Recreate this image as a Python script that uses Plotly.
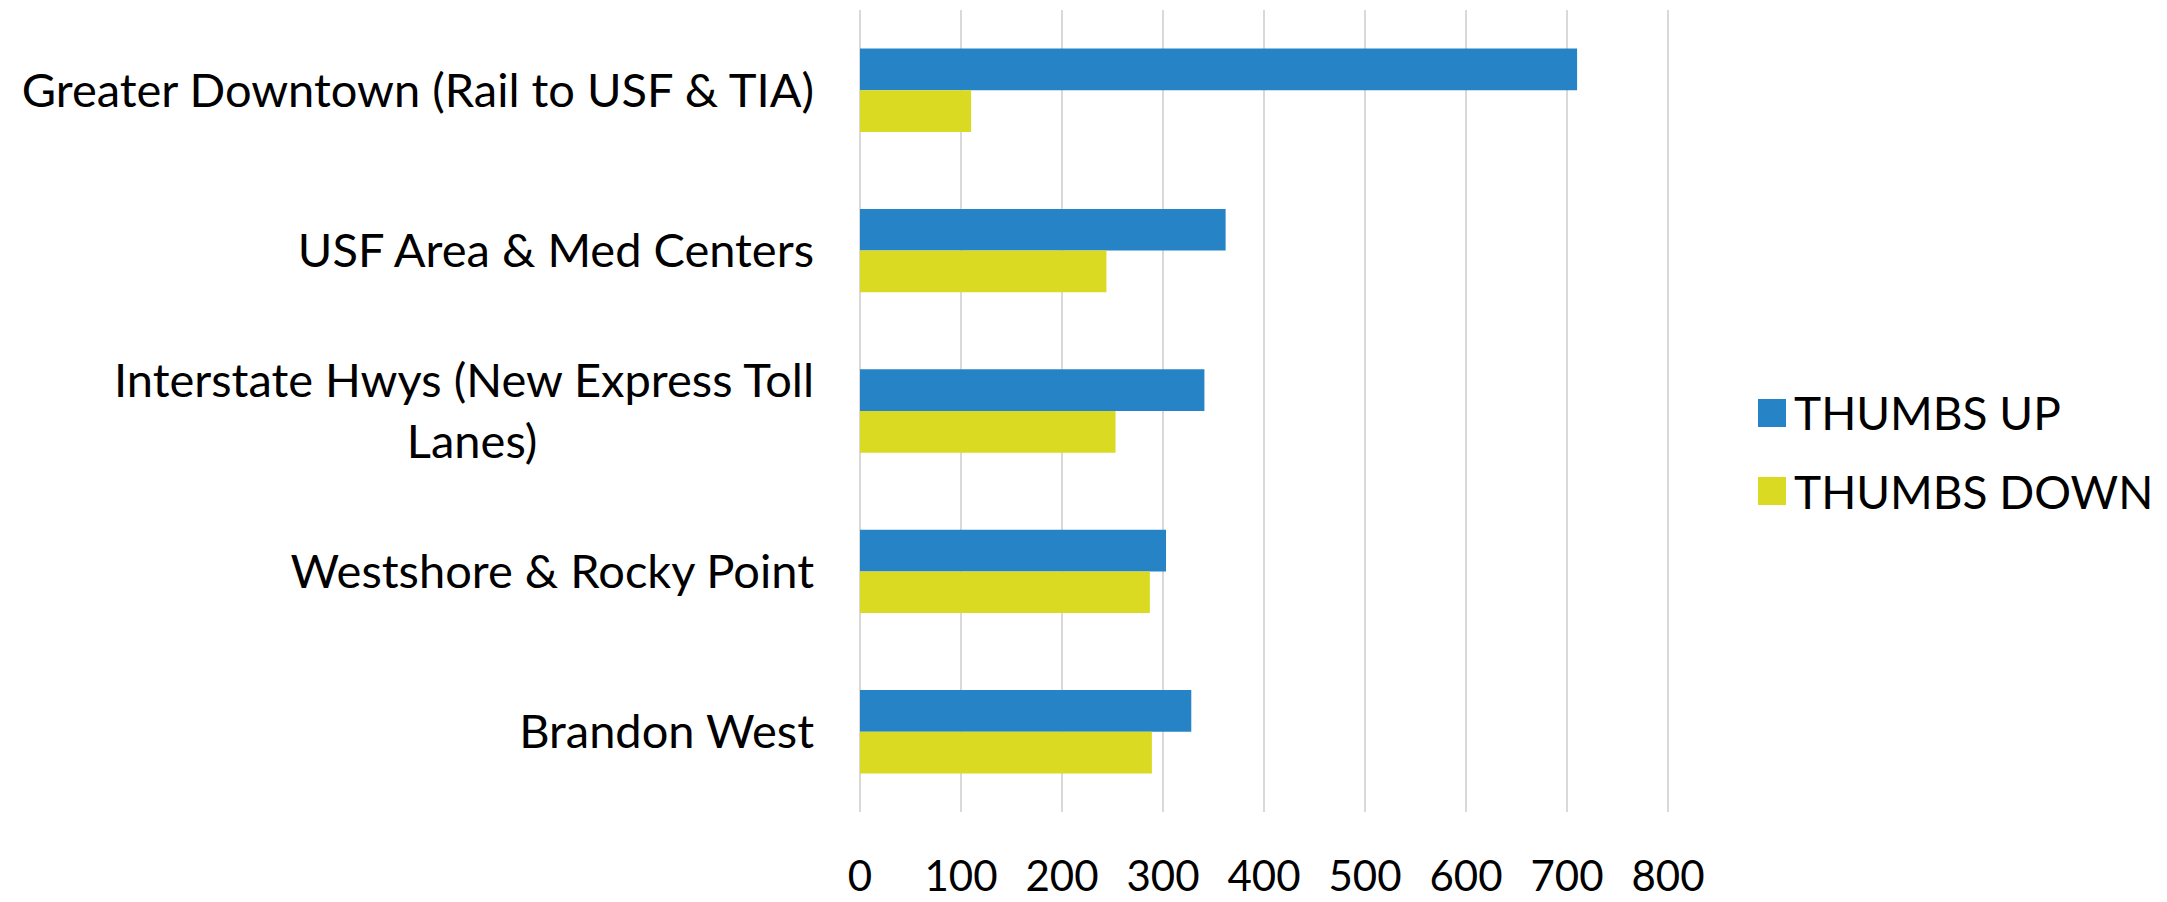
import plotly.graph_objects as go

categories = [
    "Greater Downtown (Rail to USF & TIA)",
    "USF Area & Med Centers",
    "Interstate Hwys (New Express Toll Lanes)",
    "Westshore & Rocky Point",
    "Brandon West",
]
tick_labels = [
    "Greater Downtown (Rail to USF & TIA)",
    "USF Area & Med Centers",
    "Interstate Hwys (New Express Toll<br>Lanes)" + "\u00a0" * 23,
    "Westshore & Rocky Point",
    "Brandon West",
]
thumbs_up = [710, 362, 341, 303, 328]
thumbs_down = [110, 244, 253, 287, 289]
series_names = ["THUMBS UP", "THUMBS DOWN"]
x_ticks = [0, 100, 200, 300, 400, 500, 600, 700, 800]

BLUE = "#2683C6"
YELLOW = "#DADA22"
FONT = "Lato"
FS_CAT = 47
FS_TICK = 42
FS_LEG = 46

OFF = 8  # page body margin
W, H = 2167 - OFF, 902 - OFF
# plot area in page pixels
PL, PR, PT, PB = 859, 1669, 10, 812
L, R, T, B = PL - OFF, W - (PR - OFF), PT - OFF, H - (PB - OFF)

fig = go.Figure()
fig.add_trace(go.Bar(y=categories, x=thumbs_up, orientation="h", name=series_names[0],
                     marker=dict(color=BLUE, line=dict(width=0))))
fig.add_trace(go.Bar(y=categories, x=thumbs_down, orientation="h", name=series_names[1],
                     marker=dict(color=YELLOW, line=dict(width=0))))

pw, ph = PR - PL, PB - PT
def px(x):
    return (x - PL) / pw
def py(y):
    return (PB - y) / ph

shapes = []
annotations = []
for i, (name, col) in enumerate(zip(series_names, [BLUE, YELLOW])):
    cy = 413 + 78 * i
    shapes.append(dict(type="rect", xref="paper", yref="paper",
                       x0=px(1758), x1=px(1786), y0=py(cy + 14), y1=py(cy - 14),
                       fillcolor=col, line=dict(width=0)))
    annotations.append(dict(xref="paper", yref="paper", x=px(1792), y=py(cy),
                            xanchor="left", yanchor="middle", showarrow=False,
                            text=name, font=dict(family=FONT, size=FS_LEG, color="black")))

fig.update_layout(
    width=W, height=H,
    margin=dict(l=L, r=R, t=T, b=B, pad=0, autoexpand=False),
    paper_bgcolor="white", plot_bgcolor="white",
    barmode="group", bargap=0.48, bargroupgap=0,
    showlegend=False,
    font=dict(family=FONT, size=FS_CAT, color="black"),
    shapes=shapes, annotations=annotations,
)
fig.update_xaxes(range=[-1, 801], tickvals=x_ticks, ticktext=[str(v) for v in x_ticks],
                 showgrid=True, gridcolor="#d9d9d9", gridwidth=2, automargin=False,
                 zeroline=False, showline=False, ticks="", ticklabelstandoff=36,
                 tickfont=dict(family=FONT, size=FS_TICK, color="black"))
fig.update_yaxes(autorange="reversed", tickvals=categories, ticktext=tick_labels,
                 showgrid=False, zeroline=False, showline=False, ticks="", automargin=False,
                 ticklabelstandoff=44,
                 tickfont=dict(family=FONT, size=FS_CAT, color="black"))

fig.write_html("out.html")
